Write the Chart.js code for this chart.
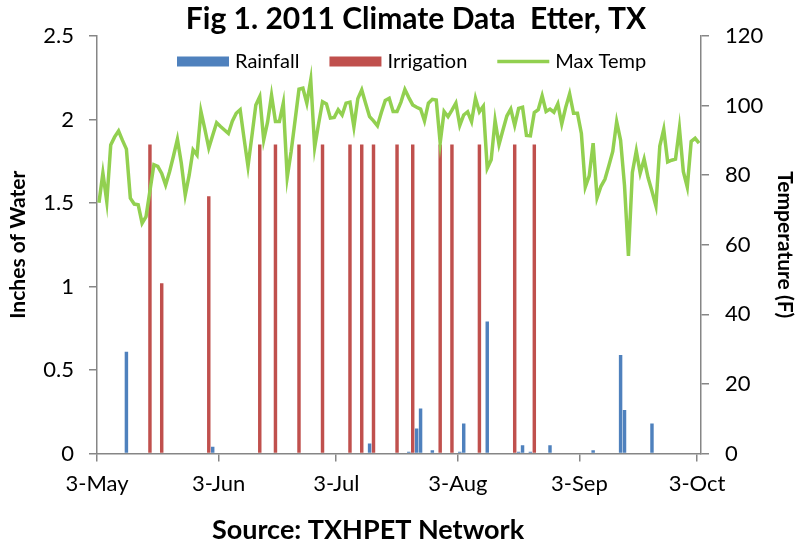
<!DOCTYPE html>
<html>
<head>
<meta charset="utf-8">
<title>Fig 1. 2011 Climate Data Etter, TX</title>
<script src="https://cdn.jsdelivr.net/npm/chart.js@4.4.1/dist/chart.umd.min.js"></script>
<style>
    html, body { margin: 0; padding: 0; background: #ffffff; }
</style>
</head>
<body>
<canvas id="climate-chart" width="795" height="543"></canvas>
<script>
// Days are counted from 3-May-2011 (day 0) to 3-Oct-2011 (day 153)
const tickDays = [0, 31, 61, 92, 123, 153];
const tickLabels = ['3-May', '3-Jun', '3-Jul', '3-Aug', '3-Sep', '3-Oct'];

// Rainfall (inches), only the days with rain
const rainDays = [7, 29, 69, 79, 81, 82, 85, 92, 93, 99, 107, 108, 110, 115, 126, 133, 134, 141];
const rainInches = [0.61, 0.04, 0.06, 0.01, 0.15, 0.27, 0.02, 0.01, 0.18, 0.79, 0.01, 0.05, 0.01, 0.05, 0.02, 0.59, 0.26, 0.18];

// Irrigation (inches), only the days with irrigation
const irrigationDays = [13, 16, 28, 41, 45, 51, 57, 64, 67, 70, 76, 80, 87, 90, 97, 106, 111];
const irrigationInches = [1.85, 1.02, 1.54, 1.85, 1.85, 1.85, 1.85, 1.85, 1.85, 1.85, 1.85, 1.85, 1.85, 1.85, 1.85, 1.85, 1.85];

// Daily max temperature (F), one value per day
const maxTemp = [
    72.1, 80.6, 72.4, 88.7, 91, 92.7, 90, 87.5, 73.4, 71.7,
    71.5, 66.2, 68.1, 75.5, 83, 82.5, 80.5, 77.2, 81, 85.5,
    90.3, 83.4, 74.3, 80, 87.3, 85.8, 98.3, 93.2, 87.8, 91.5,
    95.1, 94, 93, 92, 95.5, 97.8, 98.8, 90.5, 82.5, 91.3,
    100.2, 102.6, 90.1, 95.3, 103, 95.4, 95.4, 100.7, 79.4, 86.8,
    95.7, 104.7, 105, 100.7, 107.4, 88, 94.8, 101.1, 100.5, 96.4,
    96.6, 98.8, 97.3, 100.7, 101, 93.9, 102, 104.5, 100.6, 96.8,
    95.6, 94.2, 98, 101.5, 102.1, 98.3, 98.3, 101, 104.6, 102.3,
    100.2, 99.5, 99, 95.6, 100.7, 101.8, 101.6, 89.3, 98.3, 96.8,
    98.7, 100.7, 94.3, 97.3, 98.2, 95.4, 102.1, 98.2, 99.8, 82,
    84.4, 95.7, 88.8, 93, 97, 99, 94.3, 99.2, 99.5, 91.4,
    91.3, 98, 98.8, 102.8, 98.3, 99, 98.1, 100.5, 94.7, 99.5,
    103.4, 97.8, 97.8, 92, 76.6, 79.8, 89.2, 73.5, 76.8, 78.8,
    82.7, 86.8, 95.4, 90, 77, 56.8, 80.8, 87, 80.6, 84.6,
    79.3, 75.4, 71.2, 88.4, 93.2, 83.8, 84.3, 84.6, 93.5, 81,
    76.6, 89.7, 90.6, 89.2
];

const chartTitle = 'Fig 1. 2011 Climate Data  Etter, TX';
const sourceText = 'Source: TXHPET Network';

const axisGrey = '#868686';
const fontFamily = 'Lato, "Open Sans", sans-serif';

// each value sits in the middle of its day
function toPoints(days, values) {
    return days.map((d, i) => ({x: d + 0.5, y: values[i]}));
}

// Title above the plot and source line under the axis
const figTextPlugin = {
    id: 'figText',
    afterDraw: function (chart) {
        const ctx = chart.ctx;
        ctx.save();
        ctx.fillStyle = '#000000';
        ctx.textAlign = 'center';
        ctx.textBaseline = 'alphabetic';
        ctx.font = 'bold 30px ' + fontFamily;
        ctx.fillText(chartTitle, 416, 29);
        ctx.font = 'bold 27px ' + fontFamily;
        ctx.fillText(sourceText, 368, 539);
        ctx.restore();
    }
};

// Legend drawn in one row inside the top of the plot, like the original
const insideLegendPlugin = {
    id: 'insideLegend',
    afterDraw: function (chart) {
        const ctx = chart.ctx;
        const y = 61.5;
        let x = 177;
        ctx.save();
        ctx.font = '20px ' + fontFamily;
        ctx.textAlign = 'left';
        ctx.textBaseline = 'middle';
        chart.data.datasets.forEach(function (ds) {
            if (ds.type === 'line') {
                ctx.strokeStyle = ds.borderColor;
                ctx.lineWidth = ds.borderWidth;
                ctx.beginPath();
                ctx.moveTo(x, y);
                ctx.lineTo(x + 52, y);
                ctx.stroke();
            } else {
                ctx.fillStyle = ds.backgroundColor;
                ctx.fillRect(x, y - 5, 52, 10);
            }
            ctx.fillStyle = '#000000';
            ctx.fillText(ds.label, x + 58, y);
            x += 58 + ctx.measureText(ds.label).width + 30;
        });
        ctx.restore();
    }
};

Chart.defaults.font.family = fontFamily;
Chart.defaults.color = '#000000';

const ctx = document.getElementById('climate-chart').getContext('2d');

new Chart(ctx, {
    type: 'bar',
    data: {
        datasets: [
            {
                label: 'Rainfall',
                data: toPoints(rainDays, rainInches),
                backgroundColor: '#4F81BD',
                borderWidth: 0,
                grouped: false,
                barPercentage: 0.88,
                categoryPercentage: 1,
                yAxisID: 'y'
            },
            {
                label: 'Irrigation',
                data: toPoints(irrigationDays, irrigationInches),
                backgroundColor: '#C0504D',
                borderWidth: 0,
                grouped: false,
                barPercentage: 0.88,
                categoryPercentage: 1,
                yAxisID: 'y'
            },
            {
                type: 'line',
                label: 'Max Temp',
                data: maxTemp.map((t, i) => ({x: i + 0.5, y: t})),
                borderColor: '#92D050',
                backgroundColor: '#92D050',
                borderWidth: 3.5,
                tension: 0,
                pointRadius: 0,
                pointHoverRadius: 0,
                order: -1,
                yAxisID: 'y1'
            }
        ]
    },
    options: {
        responsive: false,
        animation: false,
        layout: {
            padding: {top: 36, left: 0, right: 0, bottom: 0}
        },
        plugins: {
            legend: {display: false},
            tooltip: {enabled: false}
        },
        scales: {
            x: {
                type: 'linear',
                min: 0,
                max: 154,
                offset: false,
                afterBuildTicks: function (scale) {
                    scale.ticks = tickDays.map(d => ({value: d}));
                },
                afterFit: function (scale) {
                    scale.height = 89.5;
                },
                ticks: {
                    autoSkip: false,
                    maxRotation: 0,
                    padding: 9,
                    color: '#000000',
                    font: {size: 22},
                    callback: function (value, index) {
                        return tickLabels[index];
                    }
                },
                grid: {
                    offset: false,
                    drawOnChartArea: false,
                    color: axisGrey,
                    lineWidth: 1.5,
                    tickLength: 8
                },
                border: {color: axisGrey, width: 1.5}
            },
            y: {
                position: 'left',
                min: 0,
                max: 2.5,
                afterFit: function (scale) {
                    scale.width = 97;
                },
                ticks: {
                    stepSize: 0.5,
                    padding: 15,
                    color: '#000000',
                    font: {size: 22},
                    callback: value => String(value)
                },
                grid: {
                    drawOnChartArea: false,
                    color: axisGrey,
                    lineWidth: 1.5,
                    tickLength: 8
                },
                border: {color: axisGrey, width: 1.5},
                title: {
                    display: true,
                    text: 'Inches of Water',
                    color: '#000000',
                    font: {size: 21, weight: 'bold', lineHeight: 1},
                    padding: {top: 8, bottom: 0}
                }
            },
            y1: {
                position: 'right',
                min: 0,
                max: 120,
                afterFit: function (scale) {
                    scale.width = 94;
                },
                ticks: {
                    stepSize: 20,
                    padding: 16,
                    color: '#000000',
                    font: {size: 22},
                    callback: value => String(value)
                },
                grid: {
                    drawOnChartArea: false,
                    color: axisGrey,
                    lineWidth: 1.5,
                    tickLength: 8
                },
                border: {color: axisGrey, width: 1.5},
                title: {
                    display: true,
                    text: 'Temperature (F)',
                    color: '#000000',
                    font: {size: 21, weight: 'bold', lineHeight: 1},
                    padding: {top: 0, bottom: 0}
                }
            }
        }
    },
    plugins: [figTextPlugin, insideLegendPlugin]
});
</script>
</body>
</html>
